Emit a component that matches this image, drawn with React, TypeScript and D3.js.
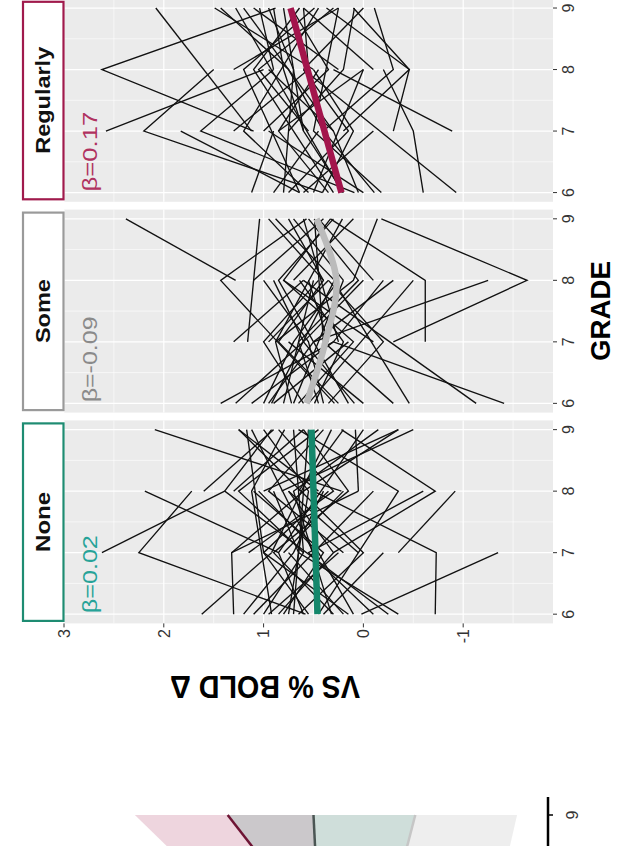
import React from 'react';
import * as d3 from 'd3';

const W = 617;
const H = 846;

// ---- data ----
const facets = ['Regularly', 'Some', 'None'];
const facetColors = ['#A01A4C', '#9A9A9A', '#1E8C72'];
const betaLabels = ['β=0.17', 'β=-0.09', 'β=0.02'];
const betaColors = ['#B0325F', '#8A8A8A', '#27A398'];
const fitColors = ['#A3154C', '#BBBBBB', '#14876B'];
const gradeTicks = [6, 7, 8, 9];
const gradeMinor = [6.5, 7.5, 8.5];
const valueTicks = [3, 2, 1, 0, -1];
const valueMinor = [2.5, 1.5, 0.5, -0.5, -1.5];
const valueTickLabels = ['3', '2', '1', '0', '-1'];

// fitted trends [grade, value]
const fitRegularly: [number, number][] = [[6, 0.22], [9, 0.73]];
const fitSome: [number, number][] = [[6, 0.57], [7, 0.38], [8, 0.27], [9, 0.47]];
const fitNone: [number, number][] = [[6, 0.46], [9, 0.52]];

// individual trajectories [grade, value]
const subjectsRegularly: [number, number][][] = [
  [[7, 1.1], [8, 2.62], [9, 0.88]],
  [[7, 2.58], [8, 1.0]],
  [[6, 0.41], [7, 2.2], [8, 1.5]],
  [[7, 1.12], [9, 2.08]],
  [[6, 0.64], [7, 1.83]],
  [[6, 0.09], [7, 1.63], [8, 0.9]],
  [[7, 0.2], [8, -0.46], [9, 0.37]],
  [[7, -0.89], [8, 0.3]],
  [[6, -0.93], [8, 0.6]],
  [[6, -0.18], [7, 0.5], [9, 0.25]],
  [[6, 1.12], [7, 0.9]],
  [[6, 0.64], [8, 1.2], [9, 0.49]],
  [[6, 0.41], [7, 0.1], [8, 0.5]],
  [[6, 0.21], [9, 1.28]],
  [[6, -0.11], [7, 0.4], [8, 0.75], [9, 1.43]],
  [[7, 0.75], [8, 0.2], [9, 0.09]],
  [[8, 0.5], [9, 1.49]],
  [[7, 0.3], [9, 1.2]],
  [[6, 0.3], [7, 0.7], [8, 1.1], [9, 0.64]],
  [[7, 0.4], [8, -0.3], [9, -0.11]],
  [[8, 0.9], [9, 1.04]],
  [[6, 0.5], [8, 0.0]],
  [[7, 1.0], [8, 0.35], [9, 0.72]],
  [[6, 0.9], [7, 0.45]],
  [[6, -0.6], [7, -0.5], [8, -0.2]],
  [[8, 1.3], [9, 0.25]],
  [[6, 0.0], [7, 0.95]],
  [[7, 0.6], [8, 0.8], [9, 0.9]],
  [[8, -0.1], [9, 0.6]],
  [[6, 0.75], [7, 0.15], [8, 0.6]],
  [[7, -0.3], [8, -0.46], [9, 0.1]],
  [[6, 0.55], [7, 1.2], [9, 0.45]],
  [[6, 0.35], [7, 0.85], [8, 0.45]],
  [[7, 0.55], [8, 1.05], [9, 0.3]],
  [[6, 0.8], [8, 0.7], [9, 0.95]],
  [[6, 0.2], [7, 0.6], [9, 0.8]],
  [[8, 0.25], [9, 1.1]],
  [[7, 0.85], [8, 0.0]],
  [[6, 0.05], [7, 0.3], [8, 0.95]],
  [[7, 1.3], [8, 0.55], [9, 0.6]],
  [[6, 0.6], [7, -0.1]],
  [[8, 0.6], [9, 0.0]],
];

const subjectsSome: [number, number][][] = [
  [[8, 1.28], [9, 2.38]],
  [[7, -0.3], [8, -1.64], [9, -0.18]],
  [[6, -1.41], [7, 0.3]],
  [[6, -1.13], [8, 0.6]],
  [[7, -0.62], [8, -0.62], [9, 0.33]],
  [[7, 0.5], [8, -1.25]],
  [[6, 1.43], [7, 0.3]],
  [[6, 1.28], [7, 0.6], [8, 0.0]],
  [[7, 1.16], [9, 1.04]],
  [[6, 0.92], [8, 0.29], [9, 0.88]],
  [[6, 0.72], [7, 0.88], [9, 0.21]],
  [[6, 0.49], [7, 0.2], [8, 0.64]],
  [[6, 0.29], [8, 1.43], [9, 0.57]],
  [[6, 0.09], [7, 0.6], [8, 0.9]],
  [[6, -0.3], [7, 0.4], [9, 0.49]],
  [[6, -0.46], [8, 0.3]],
  [[6, 1.12], [7, 0.3], [8, -0.2]],
  [[7, 0.88], [8, 0.1], [9, -0.14]],
  [[6, 0.6], [7, 1.0], [8, 0.45]],
  [[7, -0.1], [8, 0.8], [9, 0.33]],
  [[6, 0.8], [8, 0.5]],
  [[6, 0.4], [7, 0.55], [8, 1.0]],
  [[8, 0.2], [9, 0.7]],
  [[6, 0.0], [7, 0.75]],
  [[7, 0.5], [8, -0.3]],
  [[6, 0.35], [7, -0.2], [8, 0.35]],
  [[8, 0.7], [9, 0.1]],
  [[6, 0.9], [7, 0.15]],
  [[7, 0.25], [9, 0.6]],
  [[6, 0.55], [8, -0.5]],
  [[7, 1.3], [8, 0.6]],
  [[8, 1.1], [9, 0.4]],
  [[6, 0.7], [7, 0.45], [8, 0.2]],
  [[6, 0.25], [7, 0.85], [8, 0.4], [9, 0.75]],
  [[7, 0.65], [8, 0.05], [9, 0.55]],
  [[6, 0.95], [7, 0.5]],
  [[6, 0.15], [8, 0.85], [9, 0.3]],
  [[7, 0.35], [8, 0.55]],
  [[6, 0.65], [7, 0.1], [8, 0.8]],
  [[8, 0.4], [9, 0.95]],
  [[6, 1.0], [7, 0.7], [8, 0.25]],
  [[7, 0.95], [8, 0.35]],
  [[6, 0.45], [7, 0.65]],
  [[8, -0.1], [9, 0.45]],
];

const subjectsNone: [number, number][][] = [
  [[8, 0.22], [9, 2.09]],
  [[7, 0.85], [8, 2.19]],
  [[7, 2.62], [8, 1.39]],
  [[6, 0.58], [7, 2.25], [8, 1.72]],
  [[6, 0.02], [7, -1.35]],
  [[7, -0.35], [8, -0.92]],
  [[6, 1.3], [7, 1.32], [8, 0.05]],
  [[6, -0.72], [7, -0.73], [8, 0.5]],
  [[8, 0.82], [9, -0.5]],
  [[7, 0.3], [8, -0.72], [9, 0.22]],
  [[6, 1.62], [7, 0.92]],
  [[6, 0.92], [8, 1.12], [9, 0.79]],
  [[6, 0.65], [7, 0.0], [9, 1.25]],
  [[6, 0.45], [8, -0.35], [9, 0.65]],
  [[6, 0.15], [7, 1.0], [9, 1.17]],
  [[6, -0.25], [8, 1.39], [9, 0.92]],
  [[6, -0.35], [7, 0.65], [8, 0.9]],
  [[7, 1.32], [8, 0.6], [9, -0.35]],
  [[6, 0.32], [8, 0.7], [9, -0.15]],
  [[7, 0.5], [9, 1.12]],
  [[6, 0.8], [7, 0.4], [8, 1.1]],
  [[8, 0.05], [9, 0.08]],
  [[6, 1.1], [8, -0.1]],
  [[7, 0.92], [9, 0.32]],
  [[6, 0.55], [7, 1.0], [8, 0.35]],
  [[8, 1.0], [9, -0.35]],
  [[6, 0.7], [9, 0.55]],
  [[7, 0.2], [8, 0.95], [9, 0.4]],
  [[6, 0.2], [7, 0.75]],
  [[8, 0.45], [9, 1.25]],
  [[6, -0.1], [7, 0.55], [8, -0.6]],
  [[7, 0.8], [8, 0.2]],
  [[6, 0.4], [7, -0.2]],
  [[8, 1.6], [9, 0.9]],
  [[6, 1.0], [7, 0.6], [9, 0.7]],
  [[6, 0.85], [7, 0.3], [8, 0.75]],
  [[6, 0.3], [7, 0.9], [8, 0.15], [9, 0.6]],
  [[7, 0.6], [8, 1.25], [9, 0.45]],
  [[6, 0.75], [8, 0.55], [9, 1.0]],
  [[6, 0.1], [7, 0.45], [8, 1.05]],
  [[7, 1.15], [8, 0.3], [9, 0.85]],
  [[6, 0.6], [7, 0.85], [9, 0.0]],
  [[8, 0.65], [9, 0.2]],
  [[6, 1.2], [7, 0.7], [8, 0.4]],
  [[7, 0.05], [8, 0.75]],
  [[6, 0.95], [7, 0.25]],
  [[8, 1.3], [9, 0.6]],
];

// lower (cropped) panel: model ribbons at grades 8 and 9
const ribbonGrades = [8, 9];
const ribbonRegLo = [0.45, 0.5];
const ribbonRegHi = [1.26, 2.29];
const lineReg = [0.58, 1.36];
const ribbonNoneLo = [-0.26, -0.52];
const ribbonNoneHi = [0.58, 1.36];
const lineNone = [0.45, 0.5];
const ribbonSomeLo = [-1.31, -1.54];
const ribbonSomeHi = [0.45, 0.5];
const lineSome = [-0.26, -0.52];

const allSubjects = [subjectsRegularly, subjectsSome, subjectsNone];
const allFits = [fitRegularly, fitSome, fitNone];

// ---- layout ----
const FONT = "'Liberation Sans', Arial, Helvetica, sans-serif";
const panelLeft = 64;
const panelRight = 553;
const panelTops = [-1.2, 209.6, 420.4];
const panelH = 203;

const xScale = d3.scaleLinear().domain([3.0, -1.9]).range([panelLeft, panelRight]);

export default function App() {
  const gScales = panelTops.map((t) =>
    d3.scaleLinear().domain([5.85, 9.15]).range([t + panelH, t])
  );

  const gB = d3.scaleLinear().domain([8, 9]).range([915, 815]);
  const ribbon = (lo: number[], hi: number[]) =>
    d3
      .area<number>()
      .y((g) => gB(g))
      .x0((_, i) => xScale(lo[i]))
      .x1((_, i) => xScale(hi[i]))(ribbonGrades) || '';
  const rline = (v: number[]) =>
    d3
      .line<number>()
      .y((g) => gB(g))
      .x((_, i) => xScale(v[i]))(ribbonGrades) || '';

  return (
    <svg
      width={W}
      height={H}
      style={{ position: 'absolute', left: 0, top: 0, background: '#fff' }}
      fontFamily={FONT}
    >
      <defs>
        {panelTops.map((t, i) => (
          <clipPath id={`clip${i}`} key={i}>
            <rect x={panelLeft} y={t} width={panelRight - panelLeft} height={panelH} />
          </clipPath>
        ))}
      </defs>

      {facets.map((f, i) => {
        const gs = gScales[i];
        const t = panelTops[i];
        const line = d3
          .line<[number, number]>()
          .x((d) => xScale(d[1]))
          .y((d) => gs(d[0]));
        const fitLine = d3
          .line<[number, number]>()
          .x((d) => xScale(d[1]))
          .y((d) => gs(d[0]))
          .curve(d3.curveCatmullRom);
        return (
          <g key={f}>
            <rect x={panelLeft} y={t} width={panelRight - panelLeft} height={panelH} fill="#EBEBEB" />
            {valueMinor.map((v) => (
              <line key={'vm' + v} x1={xScale(v)} x2={xScale(v)} y1={t} y2={t + panelH} stroke="#fff" strokeWidth={0.6} />
            ))}
            {gradeMinor.map((g) => (
              <line key={'gm' + g} y1={gs(g)} y2={gs(g)} x1={panelLeft} x2={panelRight} stroke="#fff" strokeWidth={0.6} />
            ))}
            {valueTicks.map((v) => (
              <line key={'vM' + v} x1={xScale(v)} x2={xScale(v)} y1={t} y2={t + panelH} stroke="#fff" strokeWidth={1.2} />
            ))}
            {gradeTicks.map((g) => (
              <line key={'gM' + g} y1={gs(g)} y2={gs(g)} x1={panelLeft} x2={panelRight} stroke="#fff" strokeWidth={1.2} />
            ))}
            <g clipPath={`url(#clip${i})`}>
              {allSubjects[i].map((s, j) => (
                <path key={j} d={line(s) || ''} fill="none" stroke="#111" strokeWidth={1.35} />
              ))}
              <path d={fitLine(allFits[i]) || ''} fill="none" stroke={fitColors[i]} strokeWidth={6.5} strokeLinecap="butt" />
            </g>
            {/* strip */}
            <rect x={23} y={t + 3} width={40.5} height={panelH - 5.5} fill="#fff" stroke={facetColors[i]} strokeWidth={2.2} />
            <text
              transform={`translate(50,${t + panelH / 2}) rotate(-90)`}
              textAnchor="middle"
              fontWeight="bold"
              fontSize={19.5}
              fill="#111"
              textLength={[107, 64, 60][i]}
              lengthAdjust="spacingAndGlyphs"
            >
              {f}
            </text>
            {/* beta */}
            <text
              transform={`translate(97,${gs(6) - 1}) rotate(-90)`}
              textAnchor="start"
              fontSize={20}
              fill={betaColors[i]}
              textLength={[80, 86, 78][i]}
              lengthAdjust="spacingAndGlyphs"
            >
              {betaLabels[i]}
            </text>
            {/* grade axis */}
            {gradeTicks.map((g) => (
              <g key={'gt' + g}>
                <line x1={panelRight} x2={panelRight + 4} y1={gs(g)} y2={gs(g)} stroke="#333" strokeWidth={1} />
                <text
                  transform={`translate(574,${gs(g)}) rotate(-90)`}
                  textAnchor="middle"
                  fontSize={16}
                  fill="#333"
                >
                  {g}
                </text>
              </g>
            ))}
          </g>
        );
      })}

      {/* value axis */}
      {valueTicks.map((v, i) => (
        <g key={'vt' + v}>
          <line x1={xScale(v)} x2={xScale(v)} y1={panelTops[2] + panelH} y2={panelTops[2] + panelH + 4} stroke="#333" strokeWidth={1} />
          <text
            transform={`translate(${xScale(v) + 5.8},629) rotate(-90)`}
            textAnchor="end"
            fontSize={16}
            fill="#333"
          >
            {valueTickLabels[i]}
          </text>
        </g>
      ))}

      <text
        transform="translate(265,676) rotate(180)"
        textAnchor="middle"
        fontWeight="bold"
        fontSize={31}
        fill="#000"
        textLength={190}
        lengthAdjust="spacingAndGlyphs"
      >
        VS % BOLD Δ
      </text>
      <text
        transform={`translate(610,${(panelTops[0] + panelTops[2] + panelH) / 2}) rotate(-90)`}
        textAnchor="middle"
        fontWeight="bold"
        fontSize={28}
        fill="#000"
        textLength={100}
        lengthAdjust="spacingAndGlyphs"
      >
        GRADE
      </text>

      {/* lower, cropped panel */}
      <g>
        <path d={ribbon(ribbonRegLo, ribbonRegHi)} fill="#A3174A" fillOpacity={0.18} />
        <path d={ribbon(ribbonNoneLo, ribbonNoneHi)} fill="#1B8A6B" fillOpacity={0.16} />
        <path d={ribbon(ribbonSomeLo, ribbonSomeHi)} fill="#9E9E9E" fillOpacity={0.18} />
        <path d={rline(lineReg)} fill="none" stroke="#6E1434" strokeWidth={2.5} />
        <path d={rline(lineNone)} fill="none" stroke="#4B5654" strokeWidth={2.5} />
        <path d={rline(lineSome)} fill="none" stroke="#C6C6C6" strokeWidth={2.5} />
        <line x1={548} x2={548} y1={797} y2={H} stroke="#000" strokeWidth={2.5} />
        <line x1={548} x2={553} y1={gB(9)} y2={gB(9)} stroke="#000" strokeWidth={1.5} />
        <text transform={`translate(578,${gB(9)}) rotate(-90)`} textAnchor="middle" fontSize={16} fill="#333">
          9
        </text>
      </g>
    </svg>
  );
}
